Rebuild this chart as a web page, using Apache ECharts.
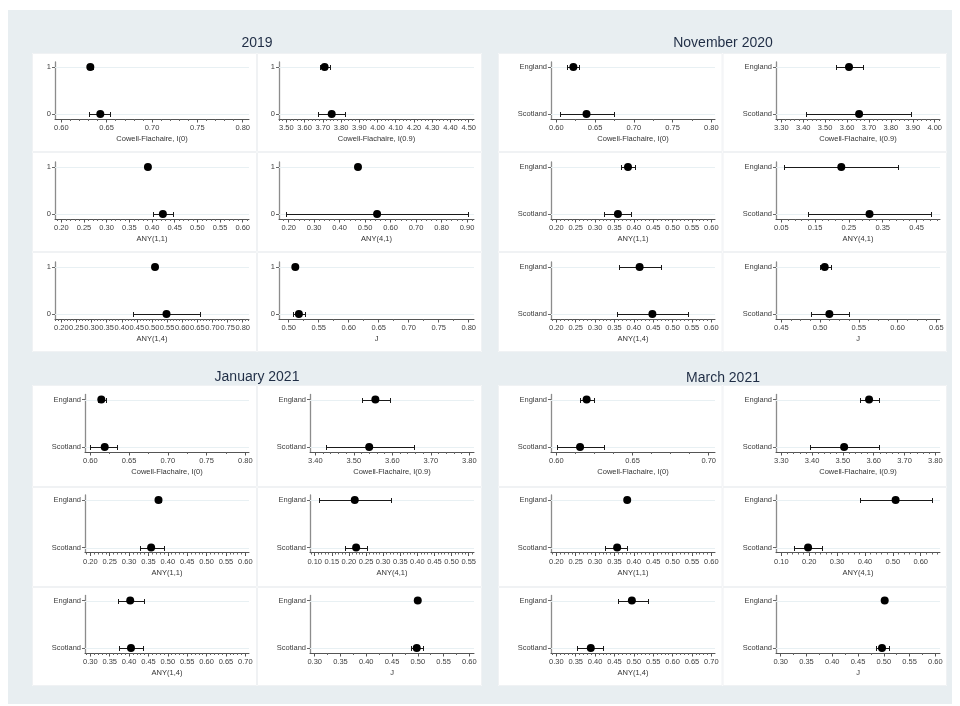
<!DOCTYPE html>
<html>
<head>
<meta charset="utf-8">
<script src="https://cdn.jsdelivr.net/npm/echarts@6/dist/echarts.min.js"></script>
<style>
  html, body { margin: 0; padding: 0; background: #ffffff; }
  #chart { width: 960px; height: 706px; }
</style>
</head>
<body>
<div id="chart"></div>
<script>
// ---- data -------------------------------------------------------------
const panelTitles = ['2019', 'November 2020', 'January 2021', 'March 2021'];
const measureNames = ['Cowell-Flachaire, I(0)', 'Cowell-Flachaire, I(0.9)', 'ANY(1,1)', 'ANY(4,1)', 'ANY(1,4)', 'J'];
const groups2019 = ['0', '1'];               // bottom row, top row
const groupsNations = ['Scotland', 'England']; // bottom row, top row

// point estimates per measure, [bottom row, top row]
const est2019 = [[0.643, 0.632], [3.749, 3.710], [0.424, 0.391], [0.547, 0.472], [0.548, 0.510], [0.517, 0.511]];
const low2019 = [[0.631, 0.6295], [3.674, 3.687], [0.402, 0.388], [0.189, 0.468], [0.436, 0.507], [0.507, 0.509]];
const high2019 = [[0.654, 0.6345], [3.824, 3.738], [0.447, 0.394], [0.904, 0.477], [0.660, 0.513], [0.527, 0.513]];

const estNov20 = [[0.639, 0.622], [3.655, 3.609], [0.359, 0.385], [0.311, 0.2275], [0.448, 0.415], [0.512, 0.506]];
const lowNov20 = [[0.6045, 0.614], [3.414, 3.551], [0.323, 0.368], [0.129, 0.058], [0.357, 0.361], [0.488, 0.4995]];
const highNov20 = [[0.6745, 0.629], [3.894, 3.673], [0.3935, 0.402], [0.492, 0.395], [0.540, 0.469], [0.537, 0.5137]];

const estJan21 = [[0.6186, 0.6142], [3.540, 3.556], [0.357, 0.376], [0.221, 0.217], [0.405, 0.403], [0.498, 0.500]];
const lowJan21 = [[0.600, 0.6095], [3.428, 3.521], [0.329, 0.370], [0.189, 0.112], [0.373, 0.3715], [0.487, 0.4985]];
const highJan21 = [[0.6345, 0.6203], [3.656, 3.593], [0.389, 0.383], [0.252, 0.324], [0.435, 0.439], [0.5095, 0.5015]];

const estMar21 = [[0.6156, 0.6199], [3.504, 3.585], [0.357, 0.383], [0.196, 0.510], [0.389, 0.495], [0.4966, 0.5018]];
const lowMar21 = [[0.6004, 0.6154], [3.392, 3.5545], [0.3265, 0.380], [0.145, 0.3835], [0.3544, 0.4582], [0.4855, 0.5005]];
const highMar21 = [[0.6313, 0.6248], [3.617, 3.617], [0.3825, 0.386], [0.247, 0.641], [0.4215, 0.5355], [0.5095, 0.503]];

// labelled x ticks per measure: [first, last, step]
const ticks2019 = [[0.60, 0.80, 0.05], [3.50, 4.50, 0.10], [0.20, 0.60, 0.05], [0.20, 0.90, 0.10], [0.20, 0.80, 0.05], [0.50, 0.80, 0.05]];
const ticksNov20 = [[0.60, 0.80, 0.05], [3.30, 4.00, 0.10], [0.20, 0.60, 0.05], [0.05, 0.45, 0.10], [0.20, 0.60, 0.05], [0.45, 0.65, 0.05]];
const ticksJan21 = [[0.60, 0.80, 0.05], [3.40, 3.80, 0.10], [0.20, 0.60, 0.05], [0.10, 0.55, 0.05], [0.30, 0.70, 0.05], [0.30, 0.60, 0.05]];
const ticksMar21 = [[0.60, 0.70, 0.05], [3.30, 3.80, 0.10], [0.20, 0.60, 0.05], [0.10, 0.60, 0.10], [0.30, 0.70, 0.05], [0.30, 0.60, 0.05]];

// ---- layout -----------------------------------------------------------
const FONT = '"Liberation Sans", Arial, Helvetica, sans-serif';
const layout = [
  { tx: 257, ty: 43, rect: [32, 53, 450, 299], rows: [53, 152, 252, 352],
    cols: [[55, 249], [279, 474]], top0: 67, rowStep: 100, gap: 47,
    pads: [[6.3, 6.3], [7.3, 5.3], [6.3, 6.3], [9.7, 7], [6.3, 6.3], [9.7, 5.3]],
    minor: [5, 5, 5, 5, 5, 2] },
  { tx: 723, ty: 43, rect: [498, 53, 449, 299], rows: [53, 152, 252, 352],
    cols: [[551, 715], [776, 940]], top0: 67, rowStep: 100, gap: 47,
    pads: [[5.3, 3.7], [5.3, 5.3], [5.3, 3.7], [5.3, 23.5], [5.3, 3.7], [5.3, 3.7]],
    minor: [2, 5, 5, 5, 5, 4] },
  { tx: 257, ty: 377, rect: [32, 385, 450, 301], rows: [385, 487, 587, 686],
    cols: [[85, 249], [310, 474]], top0: 399.5, rowStep: 100.5, gap: 47.5,
    pads: [[5.3, 3.7], [5.3, 4.7], [5.3, 3.7], [4.7, 5.3], [5.3, 3.7], [4.7, 4.7]],
    minor: [2, 5, 5, 5, 5, 2] },
  { tx: 723, ty: 378, rect: [498, 385, 449, 301], rows: [385, 487, 587, 686],
    cols: [[551, 715], [776, 940]], top0: 399.5, rowStep: 100.5, gap: 47.5,
    pads: [[5.3, 6.3], [5.3, 4.7], [5.3, 3.7], [5.3, 19.3], [5.3, 3.7], [4.7, 4.7]],
    minor: [4, 5, 5, 5, 5, 2] }
];

const panels = [
  { title: panelTitles[0], groups: groups2019, est: est2019, low: low2019, high: high2019, ticks: ticks2019 },
  { title: panelTitles[1], groups: groupsNations, est: estNov20, low: lowNov20, high: highNov20, ticks: ticksNov20 },
  { title: panelTitles[2], groups: groupsNations, est: estJan21, low: lowJan21, high: highJan21, ticks: ticksJan21 },
  { title: panelTitles[3], groups: groupsNations, est: estMar21, low: lowMar21, high: highMar21, ticks: ticksMar21 }
];

// ---- build option -----------------------------------------------------
const grids = [], xAxes = [], yAxes = [], series = [];
const graphics = [
  { type: 'rect', shape: { x: 8, y: 10, width: 944, height: 694 }, style: { fill: '#e8eef1' }, z: -10, silent: true }
];

const CAP = 2.5;
const crisp = v => Math.round(v) + 0.5;
// confidence interval with end caps, over a faint full-width row line
function renderErrorBar(params, api) {
  const a = api.coord([api.value(0), api.value(1)]);
  const b = api.coord([api.value(2), api.value(1)]);
  const cs = params.coordSys;
  const y = crisp(a[1]);
  const xa = crisp(a[0]), xb = crisp(b[0]);
  const st = { stroke: '#1a1a1a', lineWidth: 1 };
  return {
    type: 'group',
    children: [
      { type: 'line', z2: 0, shape: { x1: cs.x, y1: y, x2: cs.x + cs.width, y2: y }, style: { stroke: '#e8f0f3', lineWidth: 1 } },
      { type: 'line', z2: 1, shape: { x1: xa, y1: y, x2: xb, y2: y }, style: st },
      { type: 'line', z2: 1, shape: { x1: xa, y1: y - CAP, x2: xa, y2: y + CAP }, style: st },
      { type: 'line', z2: 1, shape: { x1: xb, y1: y - CAP, x2: xb, y2: y + CAP }, style: st }
    ]
  };
}

panels.forEach((pd, p) => {
  const L = layout[p];
  const [rx, ry, rw, rh] = L.rect;
  graphics.push({ type: 'rect', shape: { x: rx, y: ry, width: rw, height: rh }, style: { fill: '#ffffff' }, z: -9, silent: true });
  // faint cell frames around each sub-plot
  for (let r = 0; r < 3; r++) {
    for (let c = 0; c < 2; c++) {
      graphics.push({
        type: 'rect',
        shape: { x: rx + c * rw / 2 + 0.5, y: L.rows[r] + 0.5, width: rw / 2 - 1, height: L.rows[r + 1] - L.rows[r] - 1 },
        style: { fill: null, stroke: '#f0f2f4', lineWidth: 1 }, z: -8, silent: true
      });
    }
  }
  graphics.push({
    type: 'text', x: L.tx, y: L.ty, z: 5, silent: true,
    style: { text: pd.title, align: 'center', verticalAlign: 'middle', fill: '#1f2d45', font: '14px ' + FONT }
  });

  for (let m = 0; m < 6; m++) {
    const row = Math.floor(m / 2), col = m % 2;
    const [gx0, gx1] = L.cols[col];
    const topCat = L.top0 + row * L.rowStep;
    const W = gx1 - gx0;
    const gTop = topCat - 5, gH = L.gap + 10;
    const yPad = 5 / L.gap;
    const [first, last, step] = pd.ticks[m];
    const [padL, padR] = L.pads[m];
    const s = (W - padL - padR) / (last - first);
    const xmin = first - padL / s, xmax = last + padR / s;

    const major = [];
    const n = Math.round((last - first) / step);
    for (let i = 0; i <= n; i++) major.push(+(first + i * step).toFixed(4));
    const split = L.minor[m];
    const mstep = step / split;
    const minorVals = [];
    const k0 = Math.ceil((xmin - first) / mstep - 1e-6), k1 = Math.floor((xmax - first) / mstep + 1e-6);
    for (let k = k0; k <= k1; k++) {
      if (((k % split) + split) % split === 0) continue;
      minorVals.push(+(first + k * mstep).toFixed(5));
    }

    const gi = grids.length;
    grids.push({ left: gx0, top: gTop, width: W, height: gH });
    grids.push({ left: gx0, top: gTop, width: W, height: gH });
    const xi = xAxes.length, yi = yAxes.length;

    xAxes.push({
      gridIndex: gi, type: 'value', min: xmin, max: xmax,
      axisLine: { show: true, onZero: false, lineStyle: { color: '#555555', width: 1 } },
      axisTick: { show: true, customValues: major, length: 3.5, lineStyle: { color: '#555555', width: 1 } },
      axisLabel: { customValues: major, formatter: v => v.toFixed(2), fontSize: 7.5, color: '#3d3d3d', margin: 5, fontFamily: FONT },
      splitLine: { show: false },
      name: measureNames[m], nameLocation: 'middle', nameGap: 16,
      nameTextStyle: { fontSize: 7.5, color: '#333333', fontFamily: FONT }
    });
    xAxes.push({
      gridIndex: gi + 1, type: 'value', min: xmin, max: xmax,
      axisLine: { show: false, onZero: false },
      axisTick: { show: true, customValues: minorVals, length: 2, lineStyle: { color: '#666666', width: 1 } },
      axisLabel: { show: false }, splitLine: { show: false }
    });
    yAxes.push({
      gridIndex: gi, type: 'value', min: -yPad, max: 1 + yPad,
      axisLine: { show: true, onZero: false, lineStyle: { color: '#8c8c8c', width: 1.3 } },
      axisTick: { show: true, customValues: [0, 1], length: 3, lineStyle: { color: '#666666' } },
      axisLabel: { customValues: [0, 1], formatter: v => pd.groups[Math.round(v)], fontSize: 7.5, color: '#3d3d3d', margin: 4, fontFamily: FONT },
      splitLine: { show: false }
    });
    yAxes.push({ gridIndex: gi + 1, type: 'value', min: -yPad, max: 1 + yPad, show: false });

    const bars = [0, 1].map(g => [pd.low[m][g], g, pd.high[m][g]]);
    const pts = [0, 1].map(g => [pd.est[m][g], g]);

    series.push({
      type: 'custom', xAxisIndex: xi, yAxisIndex: yi, z: 2,
      renderItem: renderErrorBar, encode: { x: [0, 2], y: 1 }, data: bars, silent: true
    });
    series.push({
      type: 'scatter', xAxisIndex: xi, yAxisIndex: yi, z: 4,
      symbol: 'circle', symbolSize: 8, itemStyle: { color: '#000000', opacity: 1 }, silent: true,
      data: pts
    });
  }
});

const chart = echarts.init(document.getElementById('chart'), null, { renderer: 'canvas' });
chart.setOption({
  animation: false,
  backgroundColor: '#ffffff',
  textStyle: { fontFamily: FONT },
  grid: grids,
  xAxis: xAxes,
  yAxis: yAxes,
  series: series,
  graphic: graphics
});
</script>
</body>
</html>
